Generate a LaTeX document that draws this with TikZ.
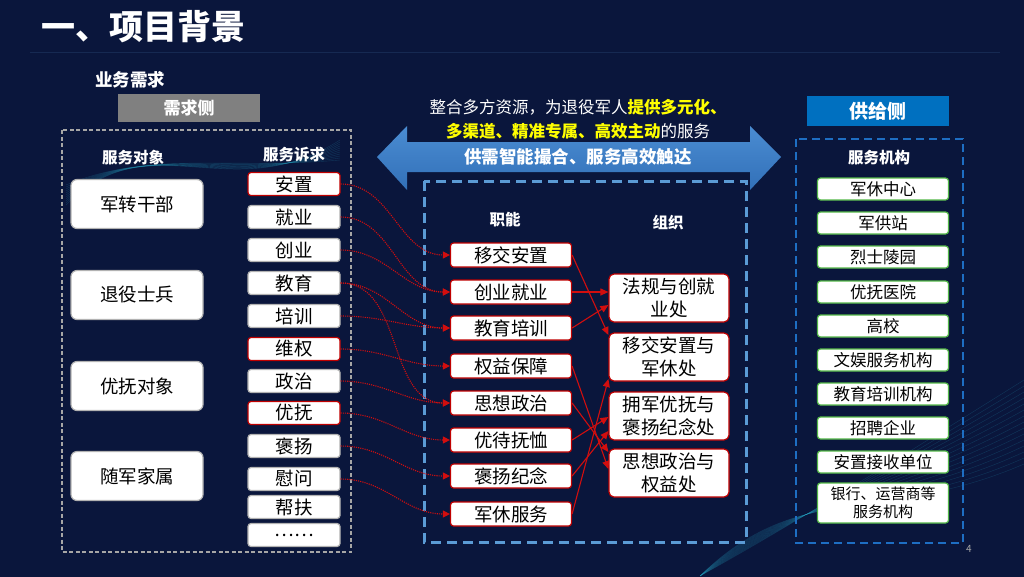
\documentclass[tikz,border=0pt]{standalone}
\usepackage{fontspec}
\setmainfont{Noto Sans CJK SC}
\usetikzlibrary{arrows.meta}
\definecolor{bgdark}{RGB}{10,22,60}
\definecolor{bgmid}{RGB}{16,34,84}
\definecolor{boxred}{RGB}{192,0,0}
\definecolor{linkred}{RGB}{210,14,14}
\definecolor{boxgreen}{RGB}{84,184,72}
\definecolor{sideblue}{RGB}{0,112,192}
\definecolor{dashblue}{RGB}{91,155,213}
\definecolor{darkdash}{RGB}{30,110,195}
\definecolor{arrowtop}{RGB}{74,140,210}
\definecolor{arrowbot}{RGB}{50,112,184}
\definecolor{hiyellow}{RGB}{255,255,0}
\definecolor{wavecyan}{RGB}{40,170,200}

\begin{document}
\begin{tikzpicture}[x=1pt, y=-1pt, line width=1pt,
  head/.style={text=white, font=\fontsize{15.5}{18}\selectfont\bfseries},
  card/.style={fill=white, rounded corners=3pt, inner sep=0pt, text=black, line width=1.2pt},
  objbox/.style={card, draw=gray!60, rounded corners=6pt, minimum width=132pt, minimum height=49pt, font=\fontsize{18.5}{20}\selectfont},
  dembox/.style={card, draw=gray!60, minimum width=92pt, minimum height=23pt, font=\fontsize{18.5}{20}\selectfont},
  hot/.style={draw=boxred},
  funbox/.style={card, draw=boxred, minimum width=121pt, minimum height=24pt, font=\fontsize{18.5}{20}\selectfont},
  orgbox/.style={card, draw=boxred, rounded corners=5pt, minimum width=120pt, minimum height=48pt, align=center, font=\fontsize{18.5}{23}\selectfont},
  supbox/.style={card, draw=boxgreen, minimum width=131pt, minimum height=22pt, font=\fontsize{16.5}{18}\selectfont},
  need/.style={draw=linkred, line width=1.1pt, dash pattern=on 1.1pt off 1.1pt, -{Triangle[length=7pt,width=7pt]}},
  duty/.style={draw=linkred, line width=1.1pt, -{Triangle[length=8pt,width=7pt]}},
  wave/.style={draw=wavecyan, line width=0.4pt, opacity=0.22}]
  \useasboundingbox (0,0) rectangle (1024,576);
  % background
  \shade[left color=bgdark, middle color=bgmid, right color=bgdark] (0,0) rectangle (1024,576);
  \foreach \k in {0,...,14}
    \draw[wave] (700,576) .. controls (800,520-3*\k) and (880,470+4*\k) .. (1024,380+6*\k);
  \foreach \k in {0,...,10}
    \draw[wave] (66,205-2*\k) .. controls (150,120+3*\k) and (230,210-4*\k) .. (340,140+2*\k);
  \draw[dashblue, opacity=0.15, line width=0.8pt] (30,52) -- (1000,52);

  % title
  \node[text=white, font=\fontsize{34}{36}\selectfont\bfseries] (title) at (143,27) {一、项目背景};
  \node[text=white, font=\fontsize{17.5}{20}\selectfont\bfseries] (busi) at (130,80) {业务需求};

  % demand side
  \node[fill=gray, minimum width=142pt, minimum height=28pt, inner sep=0pt, text=white, font=\fontsize{17}{20}\selectfont\bfseries] (demside) at (189,108) {需求侧};
  \draw[gray!70, line width=2.5pt, dash pattern=on 4pt off 2.5pt] (62,130) rectangle (351,552);
  \node[head] (objhead) at (133,158) {服务对象};
  \node[head] (demhead) at (294,155) {服务诉求};

  \node[objbox] (u1) at (137,204) {军转干部};
  \node[objbox] (u2) at (137,295) {退役士兵};
  \node[objbox] (u3) at (137,386) {优抚对象};
  \node[objbox] (u4) at (137,476) {随军家属};

  \node[dembox, hot] (d1) at (294,184) {安置};
  \node[dembox] (d2) at (294,217) {就业};
  \node[dembox] (d3) at (294,250) {创业};
  \node[dembox] (d4) at (294,283) {教育};
  \node[dembox] (d5) at (294,316) {培训};
  \node[dembox, hot] (d6) at (294,349) {维权};
  \node[dembox] (d7) at (294,381) {政治};
  \node[dembox, hot] (d8) at (294,413) {优抚};
  \node[dembox] (d9) at (294,446) {褒扬};
  \node[dembox] (d10) at (294,479) {慰问};
  \node[dembox] (d11) at (294,507) {帮扶};
  \node[dembox] (d12) at (294,535) {……};

  % big two-way arrow
  \shade[top color=arrowtop, bottom color=arrowbot] (377,157) -- (407,126) -- (407,142) -- (750,142) -- (750,126) -- (781,157) -- (750,190) -- (750,172) -- (407,172) -- (407,190) -- cycle;
  \node[text=white, align=center, font=\fontsize{16.5}{24}\selectfont] (goal) at (578,119)
    {整合多方资源，为退役军人\textcolor{hiyellow}{\bfseries 提供多元化、}\\
     \textcolor{hiyellow}{\bfseries 多渠道、精准专属、高效主动}的服务};
  \node[text=white, font=\fontsize{17.5}{20}\selectfont\bfseries] (match) at (578,157) {供需智能撮合、服务高效触达};

  % middle
  \draw[dashblue, line width=3pt, dash pattern=on 10pt off 6pt] (424,181) rectangle (746,542);
  \node[head] (funhead) at (505,220) {职能};
  \node[head] (orghead) at (668,223) {组织};

  \node[funbox] (f1) at (511,255) {移交安置};
  \node[funbox] (f2) at (511,292) {创业就业};
  \node[funbox] (f3) at (511,328) {教育培训};
  \node[funbox] (f4) at (511,366) {权益保障};
  \node[funbox] (f5) at (511,403) {思想政治};
  \node[funbox] (f6) at (511,440) {优待抚恤};
  \node[funbox] (f7) at (511,476) {褒扬纪念};
  \node[funbox] (f8) at (511,514) {军休服务};

  \node[orgbox] (o1) at (669,298) {法规与创就\\业处};
  \node[orgbox] (o2) at (669,357) {移交安置与\\军休处};
  \node[orgbox] (o3) at (669,416) {拥军优抚与\\褒扬纪念处};
  \node[orgbox] (o4) at (669,473) {思想政治与\\权益处};

  % supply side
  \node[fill=sideblue, minimum width=142pt, minimum height=30pt, inner sep=0pt, text=white, font=\fontsize{19}{22}\selectfont\bfseries] (supside) at (878,111) {供给侧};
  \draw[darkdash, line width=2.5pt, dash pattern=on 8pt off 5pt] (796,139) rectangle (963,543);
  \node[head] (suphead) at (879,158) {服务机构};

  \node[supbox] (s1) at (883,189) {军休中心};
  \node[supbox] (s2) at (883,223) {军供站};
  \node[supbox] (s3) at (883,257) {烈士陵园};
  \node[supbox] (s4) at (883,292) {优抚医院};
  \node[supbox] (s5) at (883,326) {高校};
  \node[supbox] (s6) at (883,360) {文娱服务机构};
  \node[supbox] (s7) at (883,394) {教育培训机构};
  \node[supbox] (s8) at (883,428) {招聘企业};
  \node[supbox] (s9) at (883,462) {安置接收单位};
  \node[supbox, minimum height=40pt, align=center, font=\fontsize{15}{18}\selectfont] (s10) at (883,503) {银行、运营商等\\服务机构};

  % needs -> duties
  \draw[need] (d1.east) to[out=0, in=180] (f1.west);
  \draw[need] (d2.east) to[out=0, in=180] (f2.west);
  \draw[need] (d3.east) to[out=0, in=180] (f2.west);
  \draw[need] (d4.east) to[out=0, in=180] (f3.west);
  \draw[need] (d5.east) to[out=0, in=180] (f3.west);
  \draw[need] (d4.east) to[out=0, in=180] (f5.west);
  \draw[need] (d6.east) to[out=0, in=180] (f4.west);
  \draw[need] (d7.east) to[out=0, in=180] (f5.west);
  \draw[need] (d8.east) to[out=0, in=180] (f6.west);
  \draw[need] (d9.east) to[out=0, in=180] (f7.west);
  \draw[need] (d10.east) to[out=0, in=180] (f8.west);

  % duties -> offices
  \draw[duty] (f1.east) -- ([yshift=22pt]o2.west);
  \draw[duty] (f2.east) -- ([yshift=6pt]o1.west);
  \draw[duty] (f3.east) -- ([yshift=-7pt]o1.west);
  \draw[duty] (f4.east) -- ([yshift=4pt]o4.west);
  \draw[duty] (f5.east) -- ([yshift=21pt]o4.west);
  \draw[duty] (f6.east) -- ([yshift=-1pt]o3.west);
  \draw[duty] (f7.east) -- ([yshift=-15pt]o3.west);
  \draw[duty] (f8.east) -- ([yshift=-22pt]o2.west);

  \node[text=gray!70, font=\fontsize{10}{12}\selectfont] (pgno) at (969,549) {4};
\end{tikzpicture}
\end{document}
